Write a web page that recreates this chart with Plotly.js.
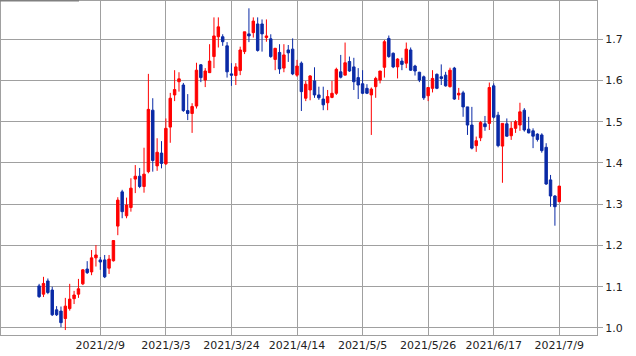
<!DOCTYPE html>
<html>
<head>
<meta charset="utf-8">
<script src="https://cdn.plot.ly/plotly-3.0.1.min.js"></script>
<style>
  html, body { margin: 0; padding: 0; background: #fff; }
  #chart { width: 636px; height: 356px; }
</style>
</head>
<body>
<div id="chart"></div>
<script>
const dates = [
  "2021-01-20","2021-01-21","2021-01-22","2021-01-25","2021-01-26","2021-01-27","2021-01-28","2021-01-29",
  "2021-02-01","2021-02-02","2021-02-03","2021-02-04","2021-02-05","2021-02-08","2021-02-09","2021-02-10",
  "2021-02-11","2021-02-12","2021-02-16","2021-02-17","2021-02-18","2021-02-19","2021-02-22","2021-02-23",
  "2021-02-24","2021-02-25","2021-02-26","2021-03-01","2021-03-02","2021-03-03","2021-03-04","2021-03-05",
  "2021-03-08","2021-03-09","2021-03-10","2021-03-11","2021-03-12","2021-03-15","2021-03-16","2021-03-17",
  "2021-03-18","2021-03-19","2021-03-22","2021-03-23","2021-03-24","2021-03-25","2021-03-26","2021-03-29",
  "2021-03-30","2021-03-31","2021-04-01","2021-04-02","2021-04-05","2021-04-06","2021-04-07","2021-04-08",
  "2021-04-09","2021-04-12","2021-04-13","2021-04-14","2021-04-15","2021-04-16","2021-04-19","2021-04-20",
  "2021-04-21","2021-04-22","2021-04-23","2021-04-26","2021-04-27","2021-04-28","2021-04-29","2021-04-30",
  "2021-05-03","2021-05-04","2021-05-05","2021-05-06","2021-05-07","2021-05-10","2021-05-11","2021-05-12",
  "2021-05-13","2021-05-14","2021-05-17","2021-05-18","2021-05-19","2021-05-20","2021-05-21","2021-05-24",
  "2021-05-25","2021-05-26","2021-05-27","2021-05-28","2021-06-01","2021-06-02","2021-06-03","2021-06-04",
  "2021-06-07","2021-06-08","2021-06-09","2021-06-10","2021-06-11","2021-06-14","2021-06-15","2021-06-16",
  "2021-06-17","2021-06-18","2021-06-21","2021-06-22","2021-06-23","2021-06-24","2021-06-25","2021-06-28",
  "2021-06-29","2021-06-30","2021-07-01","2021-07-02","2021-07-06","2021-07-07","2021-07-08","2021-07-09"
];

const openV = [
  1.102,1.082,1.114,1.092,1.044,1.041,1.023,1.047,1.071,1.082,1.107,1.143,1.136,1.170,1.165,1.165,
  1.145,1.163,1.247,1.330,1.272,1.292,1.361,1.368,1.343,1.379,1.528,1.393,1.424,1.398,1.487,1.565,
  1.597,1.589,1.527,1.520,1.538,1.638,1.601,1.619,1.658,1.706,1.706,1.684,1.616,1.612,1.624,1.670,
  1.713,1.716,1.737,1.737,1.704,1.701,1.651,1.668,1.630,1.674,1.676,1.613,1.642,1.557,1.577,1.599,
  1.565,1.555,1.546,1.559,1.569,1.621,1.613,1.646,1.633,1.607,1.592,1.581,1.565,1.585,1.601,1.632,
  1.702,1.666,1.633,1.647,1.642,1.674,1.635,1.620,1.609,1.563,1.581,1.615,1.609,1.613,1.585,1.630,
  1.565,1.570,1.536,1.492,1.442,1.461,1.495,1.496,1.587,1.516,1.441,1.495,1.466,1.484,1.492,1.528,
  1.482,1.478,1.470,1.468,1.438,1.359,1.320,1.306
];
const highV = [
  1.107,1.124,1.120,1.100,1.053,1.052,1.073,1.107,1.090,1.119,1.143,1.162,1.189,1.201,1.172,1.177,
  1.177,1.213,1.317,1.335,1.316,1.363,1.395,1.388,1.437,1.616,1.557,1.460,1.453,1.508,1.570,1.625,
  1.620,1.594,1.567,1.545,1.643,1.640,1.630,1.688,1.753,1.753,1.712,1.693,1.642,1.642,1.682,1.718,
  1.775,1.753,1.753,1.748,1.748,1.712,1.679,1.688,1.688,1.686,1.702,1.650,1.646,1.599,1.613,1.632,
  1.585,1.585,1.577,1.599,1.631,1.662,1.692,1.658,1.655,1.630,1.625,1.591,1.583,1.609,1.623,1.698,
  1.709,1.668,1.654,1.655,1.692,1.680,1.638,1.621,1.612,1.583,1.625,1.617,1.639,1.621,1.631,1.633,
  1.582,1.575,1.536,1.536,1.464,1.502,1.514,1.595,1.593,1.524,1.496,1.508,1.500,1.504,1.546,1.533,
  1.512,1.484,1.472,1.472,1.448,1.371,1.322,1.344
];
const lowV = [
  1.073,1.075,1.082,1.029,1.029,1.002,0.995,1.042,1.058,1.073,1.104,1.131,1.128,1.149,1.141,1.121,
  1.131,1.161,1.225,1.266,1.266,1.282,1.327,1.339,1.328,1.375,1.379,1.381,1.387,1.395,1.449,1.550,
  1.573,1.524,1.504,1.473,1.532,1.596,1.584,1.618,1.630,1.680,1.684,1.607,1.587,1.589,1.613,1.664,
  1.693,1.704,1.670,1.670,1.694,1.655,1.625,1.616,1.620,1.645,1.613,1.609,1.526,1.550,1.552,1.558,
  1.553,1.528,1.528,1.557,1.565,1.605,1.613,1.621,1.577,1.555,1.567,1.567,1.468,1.558,1.593,1.607,
  1.655,1.630,1.605,1.625,1.630,1.623,1.612,1.596,1.553,1.550,1.571,1.579,1.589,1.585,1.583,1.553,
  1.553,1.512,1.468,1.433,1.427,1.453,1.478,1.480,1.508,1.438,1.352,1.464,1.456,1.473,1.478,1.476,
  1.472,1.436,1.452,1.425,1.347,1.294,1.248,1.306
];
const closeV = [
  1.076,1.108,1.086,1.032,1.032,1.013,1.053,1.070,1.080,1.095,1.141,1.134,1.170,1.177,1.160,1.124,
  1.167,1.212,1.310,1.282,1.298,1.339,1.368,1.343,1.373,1.530,1.406,1.426,1.399,1.484,1.557,1.578,
  1.604,1.527,1.520,1.537,1.625,1.607,1.623,1.647,1.708,1.730,1.694,1.621,1.613,1.633,1.674,1.718,
  1.708,1.744,1.673,1.713,1.708,1.658,1.678,1.628,1.662,1.667,1.616,1.635,1.573,1.591,1.611,1.565,
  1.558,1.541,1.561,1.569,1.627,1.608,1.643,1.623,1.597,1.589,1.569,1.569,1.579,1.605,1.623,1.694,
  1.658,1.633,1.652,1.639,1.676,1.625,1.623,1.601,1.558,1.583,1.605,1.581,1.605,1.587,1.625,1.555,
  1.569,1.536,1.492,1.436,1.454,1.498,1.488,1.583,1.511,1.442,1.496,1.465,1.484,1.500,1.524,1.480,
  1.473,1.465,1.457,1.430,1.349,1.320,1.294,1.344
];

const tickDates = ["2021-02-09","2021-03-03","2021-03-24","2021-04-14","2021-05-05","2021-05-26","2021-06-17","2021-07-09"];
const tickLabels = ["2021/2/9","2021/3/3","2021/3/24","2021/4/14","2021/5/5","2021/5/26","2021/6/17","2021/7/9"];

const upColor = "#ff0000";
const downColor = "#0a2aa6";
const gridColor = "#a0a0a0";

const trace = {
  type: "candlestick",
  x: dates,
  open: openV,
  high: highV,
  low: lowV,
  close: closeV,
  increasing: { line: { color: upColor, width: 1 }, fillcolor: upColor },
  decreasing: { line: { color: downColor, width: 1 }, fillcolor: downColor },
  whiskerwidth: 0,
  hoverinfo: "none",
  showlegend: false
};

const W = 596;
const layout = {
  width: 636,
  height: 356,
  margin: { l: 1, r: 39, t: 1, b: 21, pad: 0 },
  paper_bgcolor: "#ffffff",
  plot_bgcolor: "#ffffff",
  showlegend: false,
  boxgap: 0.2,
  font: { family: "DejaVu Sans", size: 11, color: "#222222" },
  xaxis: {
    type: "category",
    range: [-8.72, 127.63],
    tickmode: "array",
    tickvals: tickDates,
    ticktext: tickLabels,
    tickangle: 0,
    ticks: "",
    showgrid: true,
    gridcolor: gridColor,
    gridwidth: 1,
    showline: true,
    mirror: true,
    linecolor: gridColor,
    linewidth: 1,
    zeroline: false,
    rangeslider: { visible: false },
    fixedrange: true
  },
  yaxis: {
    side: "right",
    range: [0.983, 1.7927],
    tick0: 1.0,
    dtick: 0.1,
    tickformat: ".1f",
    ticks: "outside",
    ticklen: 5,
    tickcolor: gridColor,
    tickwidth: 1,
    showgrid: true,
    gridcolor: gridColor,
    gridwidth: 1,
    showline: true,
    mirror: true,
    linecolor: gridColor,
    linewidth: 1,
    zeroline: false,
    fixedrange: true
  },
  shapes: [
    {
      type: "line", xref: "paper", yref: "paper",
      x0: -1 / W, x1: 78 / W, y0: 1.001, y1: 1.001,
      line: { color: "#808080", width: 1.5 }
    }
  ]
};

Plotly.newPlot("chart", [trace], layout, { staticPlot: true, displayModeBar: false });
</script>
</body>
</html>
